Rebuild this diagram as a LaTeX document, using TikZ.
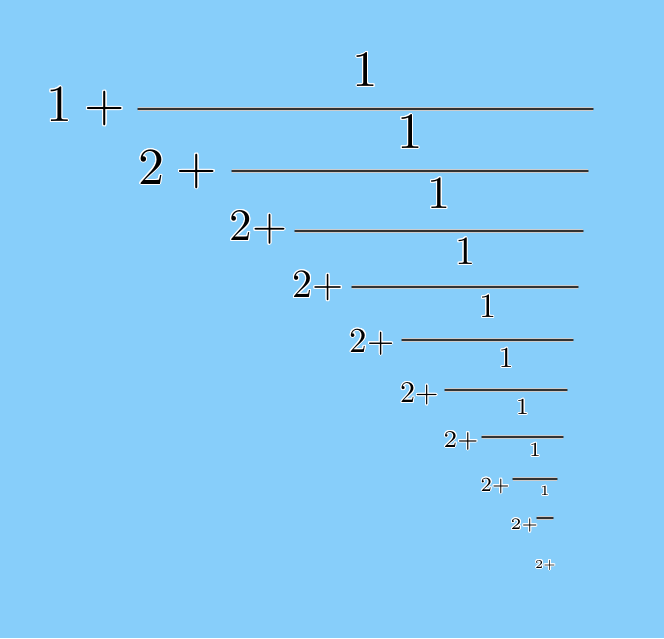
\documentclass[tikz,border=0pt]{standalone}
\usepackage{fontspec}
\setmainfont{lmroman10-regular.otf}
\newfontfamily\smallrm{lmroman7-regular.otf}
\newfontfamily\tinyrm{lmroman5-regular.otf}
\usepackage{tikz}
\usepackage{contour}
\usetikzlibrary{calc}
\contourlength{1pt}
\definecolor{skyback}{HTML}{87CEFA}
\newcommand\halo[1]{\contour{white}{#1}}
\newcommand\sz[1]{\fontsize{#1}{#1}\selectfont}
\tikzset{%
  term/.style={inner sep=0pt, anchor=base west}, % the "2+" in front of each bar
  num/.style={inner sep=0pt, anchor=base},
  bar/.style={draw=black!80, line width=1.7pt, line cap=round,
    preaction={draw=white!80!black, line width=3.2pt}}
}

\begin{document}
\begin{tikzpicture}[x=1pt, y=-1pt]
\fill[skyback] (0,0) rectangle (664,638);

% level 0
\node[term, font=\sz{52}] (p0) at (46,121.5) {\halo{1\hspace{0.24em}+}};
\coordinate (l0) at (138,109);
\coordinate (r0) at (593,109);
\draw[bar] (l0) -- (r0);
\node[num, font=\sz{51}] (n0) at ($(l0)!0.5!(r0)+(0,-22.5)$) {\halo{1}};

% level 1
\node[term, font=\sz{52}] (p1) at (138,184) {\halo{2\hspace{0.24em}+}};
\coordinate (l1) at (232,171);
\coordinate (r1) at (588,171);
\draw[bar] (l1) -- (r1);
\node[num, font=\sz{51}] (n1) at ($(l1)!0.5!(r1)+(0,-22.5)$) {\halo{1}};

% level 2
\node[term, font=\sz{45}] (p2) at (229.5,240.5) {\halo{2+}};
\coordinate (l2) at (295,231);
\coordinate (r2) at (583,231);
\draw[bar] (l2) -- (r2);
\node[num, font=\sz{46}] (n2) at ($(l2)!0.5!(r2)+(0,-22.5)$) {\halo{1}};

% level 3
\node[term, font=\sz{40}] (p3) at (292.5,297.5) {\halo{2+}};
\coordinate (l3) at (352,287);
\coordinate (r3) at (578,287);
\draw[bar] (l3) -- (r3);
\node[num, font=\sz{40}] (n3) at ($(l3)!0.5!(r3)+(0,-22.5)$) {\halo{1}};

% level 4
\node[term, font=\sz{35}] (p4) at (349.5,352) {\halo{2+}};
\coordinate (l4) at (402,340);
\coordinate (r4) at (573,340);
\draw[bar] (l4) -- (r4);
\node[num, font=\sz{34}] (n4) at ($(l4)!0.5!(r4)+(0,-22.5)$) {\halo{1}};

% level 5
\node[term, font=\sz{30}] (p5) at (400,402.5) {\halo{2+}};
\coordinate (l5) at (445,390);
\coordinate (r5) at (567,390);
\draw[bar] (l5) -- (r5);
\node[num, font=\sz{29}] (n5) at ($(l5)!0.5!(r5)+(0,-22.5)$) {\halo{1}};

% level 6
\node[term, font=\smallrm\sz{24}] (p6) at (443.5,447) {\halo{2+}};
\coordinate (l6) at (482,437);
\coordinate (r6) at (563,437);
\draw[bar] (l6) -- (r6);
\node[num, font=\smallrm\sz{23}] (n6) at ($(l6)!0.5!(r6)+(0,-22.5)$) {\halo{1}};

% level 7
\node[term, font=\smallrm\sz{20}] (p7) at (480.5,491) {\halo{2+}};
\coordinate (l7) at (513,479);
\coordinate (r7) at (557,479);
\draw[bar] (l7) -- (r7);
\node[num, font=\smallrm\sz{20}] (n7) at ($(l7)!0.5!(r7)+(0,-22.5)$) {\halo{1}};

% level 8
\node[term, font=\tinyrm\sz{16}] (p8) at (510.5,529.5) {\halo{2+}};
\coordinate (l8) at (537,518);
\coordinate (r8) at (553,518);
\draw[bar] (l8) -- (r8);
\node[num, font=\tinyrm\sz{14}] (n8) at ($(l8)!0.5!(r8)+(0,-22.5)$) {\halo{1}};

% level 9
\node[term, font=\tinyrm\sz{12}] (p9) at (535,568) {\halo{2+}};
\end{tikzpicture}
\end{document}
